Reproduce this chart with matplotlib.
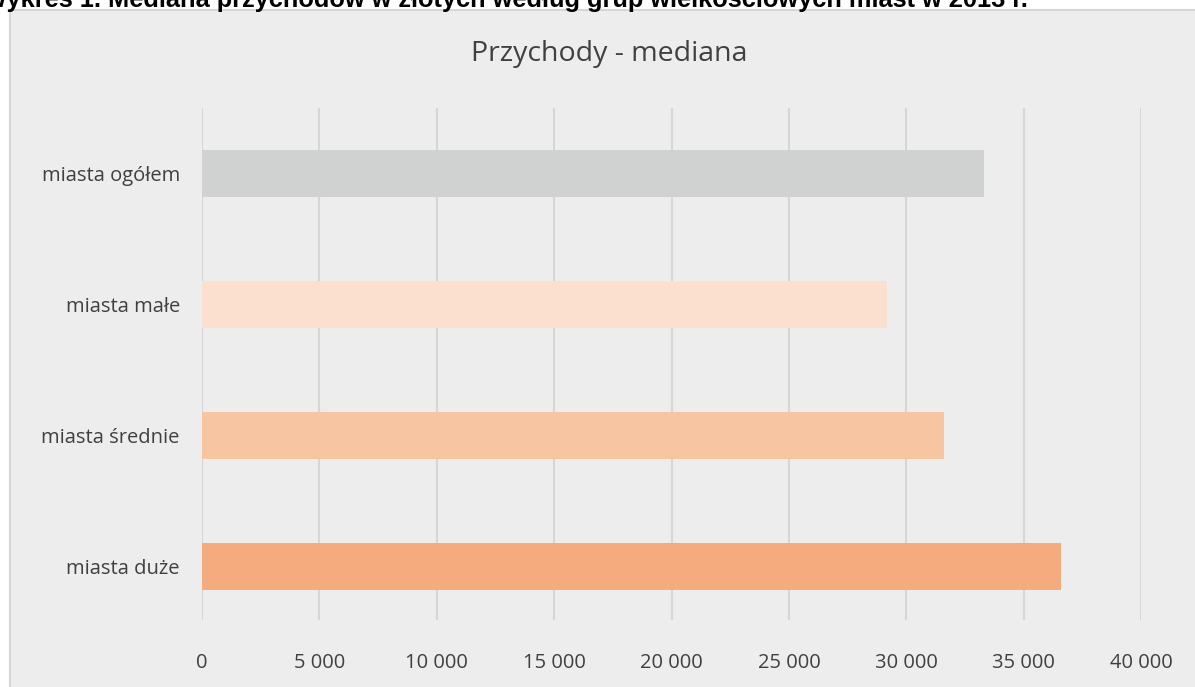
import matplotlib
matplotlib.use("Agg")
import matplotlib.pyplot as plt
from matplotlib.patches import Rectangle
from matplotlib.ticker import FuncFormatter

categories = ["miasta duże", "miasta średnie", "miasta małe", "miasta ogółem"]
values = [36600, 31600, 29200, 33300]
colors = ["#f5ab7e", "#f8c5a3", "#fbe0d0", "#d0d2d1"]
x_ticks = [0, 5000, 10000, 15000, 20000, 25000, 30000, 35000, 40000]
title = "Przychody - mediana"
caption = "Wykres 1. Mediana przychodów w złotych według grup wielkościowych miast w 2013 r."

W, H = 1195, 687
fig = plt.figure(figsize=(W / 100, H / 100), dpi=100)
fig.patch.set_facecolor("white")

# panel background
panel = Rectangle((10 / W, -0.05), 1.2, 1 - 10 / H + 0.05, transform=fig.transFigure,
                  facecolor="#ededed", edgecolor="#d6d6d6", linewidth=1.5, zorder=-10)
fig.patches.append(panel)

fig.text(-17 / W, 1 - 7 / H, caption, fontsize=18.3, fontweight="bold",
         family="Liberation Sans", color="black", va="baseline", ha="left")

txt_color = "#404040"
ax = fig.add_axes([202 / W, 1 - 620 / H, (1141 - 202) / W, (620 - 108) / H])
ax.set_facecolor("none")
ypos = list(range(len(categories)))
ax.barh(ypos, values, height=0.36, color=colors, edgecolor="none", zorder=3)
ax.set_xlim(0, 40000)
ax.set_ylim(-0.41, 3.5)
ax.set_xticks(x_ticks)
ax.xaxis.set_major_formatter(FuncFormatter(lambda v, p: f"{int(v):,}".replace(",", " ")))
ax.set_yticks(ypos)
ax.set_yticklabels(categories)
ax.grid(axis="x", color="#d6d6d6", linewidth=1.5, zorder=0)
ax.set_axisbelow(True)
for s in ax.spines.values():
    s.set_visible(False)
ax.tick_params(axis="both", length=0, labelcolor=txt_color, labelsize=14.5)
ax.tick_params(axis="x", pad=24)
ax.tick_params(axis="y", pad=16)
for lab in ax.get_xticklabels() + ax.get_yticklabels():
    lab.set_family("Open Sans")

fig.text(609 / W, 1 - 54 / H, title, fontsize=20.5, family="Open Sans",
         color=txt_color, ha="center", va="center")

fig.savefig("out.png", dpi=100, facecolor="white")
